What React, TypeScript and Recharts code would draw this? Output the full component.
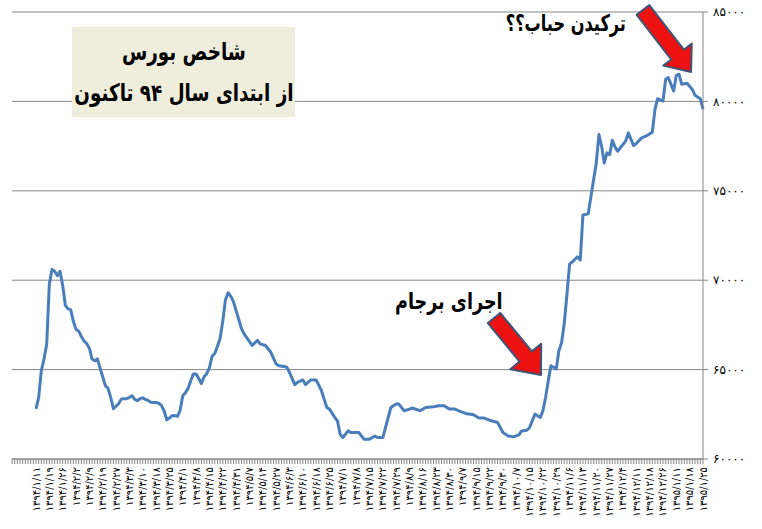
import { LineChart, Line, XAxis, YAxis, CartesianGrid } from 'recharts';

// weekly date labels shown under the axis (every 5th trading day)
const dateLabels = [
  '1394/1/11', '1394/1/19', '1394/1/26', '1394/2/2', '1394/2/9', '1394/2/19', '1394/2/27',
  '1394/3/3', '1394/3/10', '1394/3/18', '1394/3/25', '1394/4/1', '1394/4/8', '1394/4/15',
  '1394/4/22', '1394/4/31', '1394/5/7', '1394/5/14', '1394/5/27', '1394/6/3', '1394/6/10',
  '1394/6/18', '1394/6/25', '1394/7/1', '1394/7/8', '1394/7/15', '1394/7/22', '1394/7/29',
  '1394/8/9', '1394/8/16', '1394/8/23', '1394/8/30', '1394/9/7', '1394/9/15', '1394/9/22',
  '1394/9/30', '1394/10/7', '1394/10/15', '1394/10/22', '1394/10/29', '1394/11/6', '1394/11/13',
  '1394/11/20', '1394/11/27', '1394/12/4', '1394/12/11', '1394/12/18', '1394/12/26',
  '1395/1/11', '1395/1/18', '1395/1/25',
];
const firstLabelDay = 9;
const labelStep = 5;
const lastDay = 259;

const yTicks = [60000, 65000, 70000, 75000, 80000, 85000];

// [trading day, index value]
const spring94 = [
  [9, 62800], [10, 63450], [11, 64950], [12, 65600], [13, 66400], [14, 69800], [15, 70600],
  [16, 70500], [17, 70250], [18, 70500], [19, 69700], [20, 68600], [21, 68400], [22, 68350],
  [23, 67700], [24, 67250], [25, 67150], [26, 66850], [27, 66600], [28, 66450], [29, 66200],
  [30, 65600], [31, 65500], [32, 65600], [33, 65100], [34, 64600], [35, 64100], [36, 63950],
  [37, 63450], [38, 62810], [39, 62950], [40, 63100], [41, 63350], [42, 63370], [43, 63370],
  [44, 63450], [45, 63540], [46, 63330], [47, 63260], [48, 63380], [49, 63420], [50, 63330],
  [51, 63280], [52, 63170], [53, 63160], [54, 63160], [55, 63120], [56, 63000], [57, 62700],
  [58, 62190], [59, 62290], [60, 62420], [61, 62430], [62, 62380], [63, 62700],
];
const summer94 = [
  [64, 63550], [65, 63700], [66, 63950], [67, 64380], [68, 64760], [69, 64760], [70, 64500],
  [71, 64220], [72, 64600], [73, 64770], [74, 65100], [75, 65750], [76, 65900], [77, 66300],
  [78, 66740], [79, 67700], [80, 68900], [81, 69300], [82, 69100], [83, 68800], [84, 68300],
  [85, 67800], [86, 67300], [87, 67000], [90, 66350], [92, 66630], [93, 66440], [95, 66350],
  [97, 65970], [99, 65320], [100, 65220], [102, 65170], [103, 65130], [104, 64850], [106, 64160],
  [107, 64290], [109, 64420], [110, 64160], [112, 64420], [114, 64420], [116, 63820],
  [117, 63350], [118, 62880], [119, 62790], [121, 62320], [122, 62130], [123, 61380],
];
const autumn94 = [
  [124, 61200], [126, 61570], [127, 61480], [130, 61480], [132, 61100], [134, 61100],
  [136, 61290], [137, 61200], [139, 61200], [140, 61760], [142, 62880], [144, 63070],
  [145, 63070], [147, 62700], [149, 62790], [150, 62850], [153, 62700], [155, 62880],
  [158, 62920], [160, 62980], [162, 62980], [164, 62790], [166, 62790], [168, 62660],
  [170, 62550], [173, 62470], [175, 62290], [177, 62290], [179, 62170], [182, 62040],
];
const winter94 = [
  [184, 61480], [186, 61290], [188, 61240], [190, 61350], [191, 61570], [193, 61610],
  [194, 61760], [196, 62510], [197, 62420], [198, 62320], [199, 62700], [200, 63440],
  [201, 64380], [202, 65220], [204, 65040], [205, 66070], [206, 66500], [207, 67600],
  [208, 69200], [209, 70900], [210, 71030], [212, 71310], [213, 71120], [214, 73650],
  [216, 73710], [217, 74680], [219, 76560], [220, 78150], [221, 77490], [222, 76560],
  [223, 77120], [224, 77020], [225, 77830], [226, 77460], [227, 77210], [229, 77590],
  [230, 77780], [231, 78240], [233, 77530], [234, 77640], [236, 77960], [238, 78090],
  [240, 78280], [241, 79550], [242, 80150],
];
const spring95 = [
  [244, 80020], [245, 81240], [246, 81330], [248, 80580], [249, 81460], [250, 81520],
  [251, 80960], [253, 81010], [255, 80670], [256, 80340], [258, 80150], [259, 79550],
];

const data = [...spring94, ...summer94, ...autumn94, ...winter94, ...spring95].map(([day, index]) => ({ day, index }));
const allDays = Array.from({ length: lastDay + 1 }, (_, i) => i);

const faDigits = '۰۱۲۳۴۵۶۷۸۹';
const fa = (s: string) => s.replace(/\d/g, (d) => faDigits[+d]);

const GRID = '#868686';
const FONT = '"DejaVu Sans", Tahoma, sans-serif';
const BOLD_FONT = '"DejaVu Sans Condensed", "DejaVu Sans", sans-serif';

const DateTick = (props: any) => {
  const { x, y, payload } = props;
  const k = (payload.value - firstLabelDay) / labelStep;
  if (!Number.isInteger(k) || k < 0 || k >= dateLabels.length) return <g />;
  return (
    <text
      x={x}
      y={y + 1}
      transform={`rotate(-90 ${x} ${y + 1})`}
      textAnchor="end"
      dominantBaseline="central"
      fontSize={10}
      letterSpacing={1.4}
      fontFamily={FONT}
      fill="#000"
    >
      {fa(dateLabels[k])}
    </text>
  );
};

// simple block arrow from tail to tip
const arrowPoints = (tx: number, ty: number, hx: number, hy: number, shaft = 16, head = 40, headLen = 24) => {
  const len = Math.hypot(hx - tx, hy - ty);
  const ux = (hx - tx) / len, uy = (hy - ty) / len;
  const nx = -uy, ny = ux;
  const bx = hx - ux * headLen, by = hy - uy * headLen;
  const pts = [
    [tx + nx * shaft / 2, ty + ny * shaft / 2],
    [bx + nx * shaft / 2, by + ny * shaft / 2],
    [bx + nx * head / 2, by + ny * head / 2],
    [hx, hy],
    [bx - nx * head / 2, by - ny * head / 2],
    [bx - nx * shaft / 2, by - ny * shaft / 2],
    [tx - nx * shaft / 2, ty - ny * shaft / 2],
  ];
  return pts.map((p) => p.join(',')).join(' ');
};

const boldText: React.CSSProperties = {
  position: 'absolute',
  fontFamily: BOLD_FONT,
  fontWeight: 'bold',
  fontSize: 23,
  color: '#000',
  whiteSpace: 'nowrap',
  direction: 'rtl',
  lineHeight: 1,
  transformOrigin: 'right center',
};

export default function App() {
  return (
    <div style={{ position: 'absolute', left: 0, top: 0, width: 762, height: 529, background: '#fff' }}>
      <LineChart width={762} height={529} data={data} margin={{ top: 12, right: 0, bottom: 0, left: 12 }}>
        <CartesianGrid vertical={false} stroke={GRID} strokeWidth={1} />
        <XAxis
          dataKey="day"
          type="number"
          domain={[0, lastDay]}
          ticks={allDays}
          interval={0}
          height={70}
          tickSize={5}
          tick={<DateTick />}
          axisLine={{ stroke: GRID }}
          tickLine={{ stroke: GRID }}
        />
        <YAxis
          orientation="right"
          domain={[60000, 85000]}
          ticks={yTicks}
          width={59}
          tickSize={5}
          tickMargin={5}
          tickFormatter={(v: number) => fa(String(v))}
          tick={{ fontSize: 12, fill: '#000', fontFamily: FONT, textAnchor: 'start' }}
          axisLine={{ stroke: GRID }}
          tickLine={{ stroke: GRID }}
        />
        <Line
          type="linear"
          dataKey="index"
          stroke="#4a7ebb"
          strokeWidth={3}
          dot={false}
          isAnimationActive={false}
          strokeLinejoin="round"
        />
      </LineChart>

      <div
        style={{
          position: 'absolute', left: 72, top: 27, width: 223, height: 90, background: '#efeedd',
          display: 'flex', flexDirection: 'column', alignItems: 'center', justifyContent: 'center',
          fontFamily: BOLD_FONT, fontWeight: 'bold', fontSize: 24, direction: 'rtl', gap: 17, lineHeight: 1,
        }}
      >
        <div style={{ transform: 'scaleX(0.85)' }}>شاخص بورس</div>
        <div style={{ whiteSpace: 'nowrap', transform: 'scaleX(0.85)' }}>از ابتدای سال ۹۴ تاکنون</div>
      </div>

      <div style={{ ...boldText, right: 762 - 503, top: 290, transform: 'scaleX(0.85)' }}>اجرای برجام</div>
      <div style={{ ...boldText, right: 762 - 626, top: 12, transform: 'scaleX(0.78)' }}>ترکیدن حباب؟؟</div>

      <svg width={762} height={529} style={{ position: 'absolute', left: 0, top: 0, pointerEvents: 'none' }}>
        <polygon points={arrowPoints(494, 318, 541, 375)} fill="#ee1111" stroke="#3f5475" strokeWidth={2} strokeLinejoin="round" />
        <polygon points={arrowPoints(643, 10, 691, 72, 16, 36, 22)} fill="#ee1111" stroke="#3f5475" strokeWidth={2} strokeLinejoin="round" />
      </svg>
    </div>
  );
}
